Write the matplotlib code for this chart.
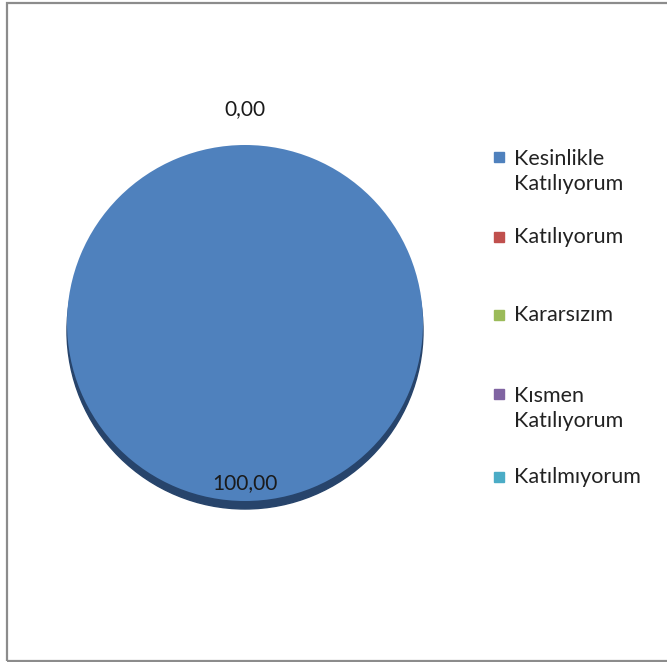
import matplotlib.pyplot as plt
from matplotlib.patches import Rectangle, Circle
import numpy as np

# veriler
categories = ["Kesinlikle\nKatılıyorum", "Katılıyorum", "Kararsızım",
              "Kısmen\nKatılıyorum", "Katılmıyorum"]
values = [100.0, 0.0, 0.0, 0.0, 0.0]
colors = ["#4f81bd", "#c0504d", "#9bbb59", "#8064a2", "#4bacc6"]

plt.rcParams["font.family"] = ["Lato", "DejaVu Sans"]

W, H = 667, 662
fig = plt.figure(figsize=(W / 100, H / 100), dpi=100)
ax = fig.add_axes([0, 0, 1, 1])

cx, cy, r = 245, H - 323, 178

# 3D görünüm için alt gölge
ax.add_patch(Circle((cx, cy - 8), r, color="#27446b", zorder=1))

wedges, _ = ax.pie(values, colors=colors, startangle=90, counterclock=False,
                   center=(cx, cy), radius=r, frame=True,
                   wedgeprops=dict(linewidth=0, zorder=2))
ax.set_xlim(0, W)
ax.set_ylim(0, H)
ax.set_aspect("auto")
ax.axis("off")

# değer etiketleri (aynı yere düşenler bir kez yazılır)
seen = set()
for w, v in zip(wedges, values):
    mid = np.deg2rad((w.theta1 + w.theta2) / 2)
    d = 0.90 * r if v > 0 else 1.20 * r
    x, y = cx + d * np.cos(mid), cy + d * np.sin(mid)
    key = (round(x), round(y))
    if key in seen:
        continue
    seen.add(key)
    ax.text(x, y, f"{v:.2f}".replace(".", ","), ha="center", va="center",
            fontsize=15, color="#1a1a1a", zorder=3)

# lejant
first_line_y = [157, 237, 315, 394, 477]
line_h = 29
for lab, col, py in zip(categories, colors, first_line_y):
    n = lab.count("\n") + 1
    fig.patches.append(Rectangle((494 / W, 1 - (py + 5) / H), 10 / W, 10 / H,
                                 transform=fig.transFigure, color=col))
    fig.text(514 / W, 1 - (py + (n - 1) * line_h / 2) / H, lab,
             ha="left", va="center", fontsize=15.5, color="#222222",
             linespacing=1.3)

# çerçeve
fig.patches.append(Rectangle((6.5 / W, 1.5 / H), 700 / W, 658 / H,
                             transform=fig.transFigure, fill=False,
                             edgecolor="#8c8c8c", linewidth=1.6))

fig.savefig("out.png", dpi=100)
